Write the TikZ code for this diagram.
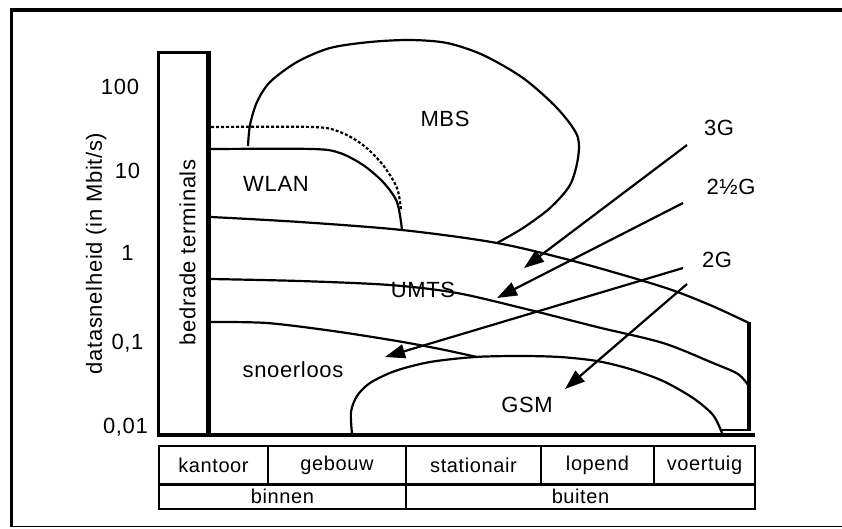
\documentclass[tikz,border=0pt]{standalone}
\usepackage{fontspec}
\setmainfont{Liberation Sans}
\newfontfamily\lblfont[LetterSpace=3]{Liberation Sans}
\usetikzlibrary{arrows.meta}
\begin{document}
\begin{tikzpicture}[x=1pt,y=-1pt,
  lbl/.style={font=\lblfont\fontsize{22}{26}\selectfont, inner sep=0pt, text height=15.75pt, text depth=0pt},
  tlbl/.style={font=\lblfont\fontsize{20}{24}\selectfont},
  cell/.style={draw, line width=2pt, inner sep=0pt, outer sep=0pt, anchor=north west, tlbl},
  curve/.style={line width=2.2pt, line join=round},
  arr/.style={line width=2.2pt, -{Triangle[length=20pt,width=14pt]}}
]
\useasboundingbox (0,0) rectangle (842,528);
% frame
\draw[line width=4pt] (10,9.5) -- (842,9.5);
\draw[line width=3pt] (11.5,8) -- (11.5,527);
\draw[line width=1.5pt] (10,526.5) -- (842,526.5);

% table
\node[cell, minimum width=109pt, minimum height=38pt] (kantoor) at (159,446) {kantoor};
\node[cell, minimum width=138pt, minimum height=38pt] (gebouw) at (268,446) {gebouw};
\node[cell, minimum width=135pt, minimum height=38pt] (stationair) at (406,446) {stationair};
\node[cell, minimum width=113pt, minimum height=38pt] (lopend) at (541,446) {lopend};
\node[cell, minimum width=101pt, minimum height=38pt] (voertuig) at (654,446) {voertuig};
\node[cell, minimum width=247pt, minimum height=25pt] (binnen) at (159,484) {binnen};
\node[cell, minimum width=349pt, minimum height=25pt] (buiten) at (406,484) {buiten};
\draw[line width=3pt] (kantoor.south west) -- (voertuig.south east);

% wired terminals box
\draw[line width=3pt] (158.3,434) -- (158.3,52) -- (208.7,52);
\draw[line width=4.5pt] (208.7,50.5) -- (208.7,434);
\node[lbl, rotate=90] (bedrade) at (187.5,252.5) {bedrade terminals};

% base line
\draw[line width=4pt] (156.8,434.5) -- (755,434.5);

% axis labels
\node[lbl, rotate=90] (ylab) at (94,253.5) {datasnelheid (in Mbit/s)};
\node[lbl] (t100) at (120,87) {100};
\node[lbl] (t10) at (127.5,171) {10};
\node[lbl] (t1) at (127.5,252.5) {1};
\node[lbl] (t01) at (127.5,341.5) {0,1};
\node[lbl] (t001) at (125.5,426) {0,01};

% dotted WLAN extension
\draw[line width=2.2pt, dash pattern=on 3pt off 2pt] plot[smooth] coordinates {(211,127) (313,127) (340,132) (363,145) (383,165) (397,188) (401,210)};
% WLAN
\draw[curve] plot[smooth] coordinates {(211,149) (313,149) (340,153) (363,165) (383,182) (397,202) (402,230)};
% MBS
\draw[curve] plot[smooth] coordinates {(248,146) (250,125) (257,102) (270,82) (297,62) (330,48) (370,42) (410,40) (447,43) (483,55) (523,78) (557,108) (577,135) (578,158) (570,185) (550,208) (523,228) (497,243)};
% UMTS upper boundary
\draw[curve] plot[smooth] coordinates {(211,217) (300,222) (402,230) (497,243) (577,262) (663,287) (710,305) (749,323)};
% UMTS lower boundary
\draw[curve] plot[smooth] coordinates {(211,279) (300,281) (390,285) (457,293) (530,310) (597,327) (663,343) (713,363) (738,374) (748,385)};
% snoerloos upper boundary
\draw[curve] plot[smooth] coordinates {(211,322) (267,323) (333,331) (397,341) (440,349) (477,357)};
% GSM
\draw[curve] plot[smooth] coordinates {(352,434) (351,412) (357,396) (370,383) (395,371) (430,362) (475,357) (520,356) (560,357) (597,361) (630,369) (663,381) (693,398) (713,415) (722,433)};
% right closing box
\draw[line width=3.2pt] (749,321.5) -- (749,431);
\draw[line width=2.2pt] (722,430) -- (750.6,430);

% region labels
\node[lbl] (mbs) at (445,119) {MBS};
\node[lbl] (wlan) at (276,184) {WLAN};
\node[lbl] (umts) at (423,290) {UMTS};
\node[lbl] (snoer) at (293,370) {snoerloos};
\node[lbl] (gsm) at (527,405) {GSM};

% generation labels and arrows
\node[lbl] (g3) at (719,128) {3G};
\node[lbl] (g25) at (731,187) {2½G};
\node[lbl] (g2) at (717,260) {2G};
\coordinate (a3s) at (687,145);
\coordinate (a3e) at (524,268);
\coordinate (a25s) at (683,203);
\coordinate (a25e) at (497,298);
\coordinate (a2s) at (683,268);
\coordinate (a2e) at (385,357);
\coordinate (a2bs) at (687,284);
\coordinate (a2be) at (565,389);
\draw[arr] (a3s) -- (a3e);
\draw[arr] (a25s) -- (a25e);
\draw[arr] (a2s) -- (a2e);
\draw[arr] (a2bs) -- (a2be);
\end{tikzpicture}
\end{document}
